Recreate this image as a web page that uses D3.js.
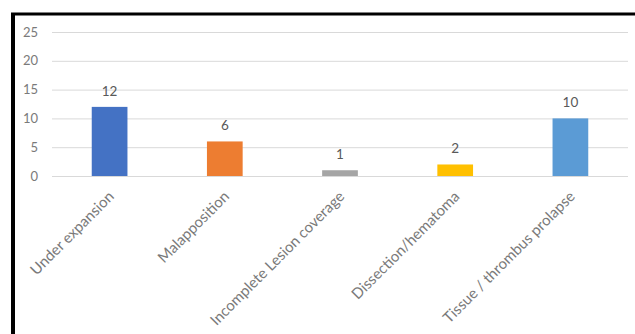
<!DOCTYPE html>
<html>
<script type="text/javascript" src="https://cdn.jsdelivr.net/npm/d3@7"></script>
<style>
  body { margin: 0; background: white; }
  * { font-family: Lato, "Open Sans", sans-serif; }
</style>
<body>
<svg width="635" height="334"></svg>
<script>
var categories = ["Under expansion", "Malapposition", "Incomplete Lesion coverage", "Dissection/hematoma", "Tissue / thrombus prolapse"];
var counts = [12, 6, 1, 2, 10];
var colors = ["#4472C4", "#ED7D31", "#A5A5A5", "#FFC000", "#5B9BD5"];
var yTicks = [0, 5, 10, 15, 20, 25];

var svg = d3.select("svg");

// frame: only top and left edges are visible in the picture
svg.append("line").attr("x1", 11).attr("x2", 635).attr("y1", 14).attr("y2", 14)
  .attr("stroke", "black").attr("stroke-width", 3);
svg.append("line").attr("x1", 13).attr("x2", 13).attr("y1", 13).attr("y2", 334)
  .attr("stroke", "black").attr("stroke-width", 4);

var xs = d3.scaleBand().domain(categories).range([52, 628]).paddingInner(0.69).paddingOuter(0.345);
var ys = d3.scaleLinear().domain([0, 25]).range([176, 32]);

// gridlines
svg.append("g")
  .selectAll("line")
  .data(yTicks)
  .enter()
  .append("line")
  .attr("x1", 52).attr("x2", 628)
  .attr("y1", function(d) { return ys(d) + 0.5; })
  .attr("y2", function(d) { return ys(d) + 0.5; })
  .attr("stroke", "#d9d9d9")
  .attr("stroke-width", 1);

// y tick labels
svg.append("g")
  .selectAll("text")
  .data(yTicks)
  .enter()
  .append("text")
  .attr("x", 38)
  .attr("y", function(d) { return ys(d); })
  .attr("dy", "0.35em")
  .attr("text-anchor", "end")
  .attr("fill", "#7a7a7a")
  .style("font-size", "13px")
  .text(function(d) { return d; });

// bars
svg.append("g")
  .selectAll("rect")
  .data(categories)
  .enter()
  .append("rect")
  .attr("x", function(d) { return xs(d); })
  .attr("y", function(d, i) { return ys(counts[i]); })
  .attr("width", xs.bandwidth())
  .attr("height", function(d, i) { return ys(0) - ys(counts[i]); })
  .attr("fill", function(d, i) { return colors[i]; });

// value labels
svg.append("g")
  .selectAll("text")
  .data(categories)
  .enter()
  .append("text")
  .attr("x", function(d) { return xs(d) + xs.bandwidth() / 2; })
  .attr("y", function(d, i) { return ys(counts[i]) - 11; })
  .attr("text-anchor", "middle")
  .attr("fill", "#595959")
  .style("font-size", "13.5px")
  .text(function(d, i) { return counts[i]; });

// category labels, rotated
svg.append("g")
  .selectAll("text")
  .data(categories)
  .enter()
  .append("text")
  .attr("transform", function(d) {
    return "translate(" + (xs(d) + xs.bandwidth() / 2 - 2) + ",190)rotate(-45)";
  })
  .attr("text-anchor", "end")
  .attr("dy", "0.7em")
  .attr("fill", "#7a7a7a")
  .style("font-size", "15px")
  .text(function(d) { return d; });
</script>
</body>
</html>
